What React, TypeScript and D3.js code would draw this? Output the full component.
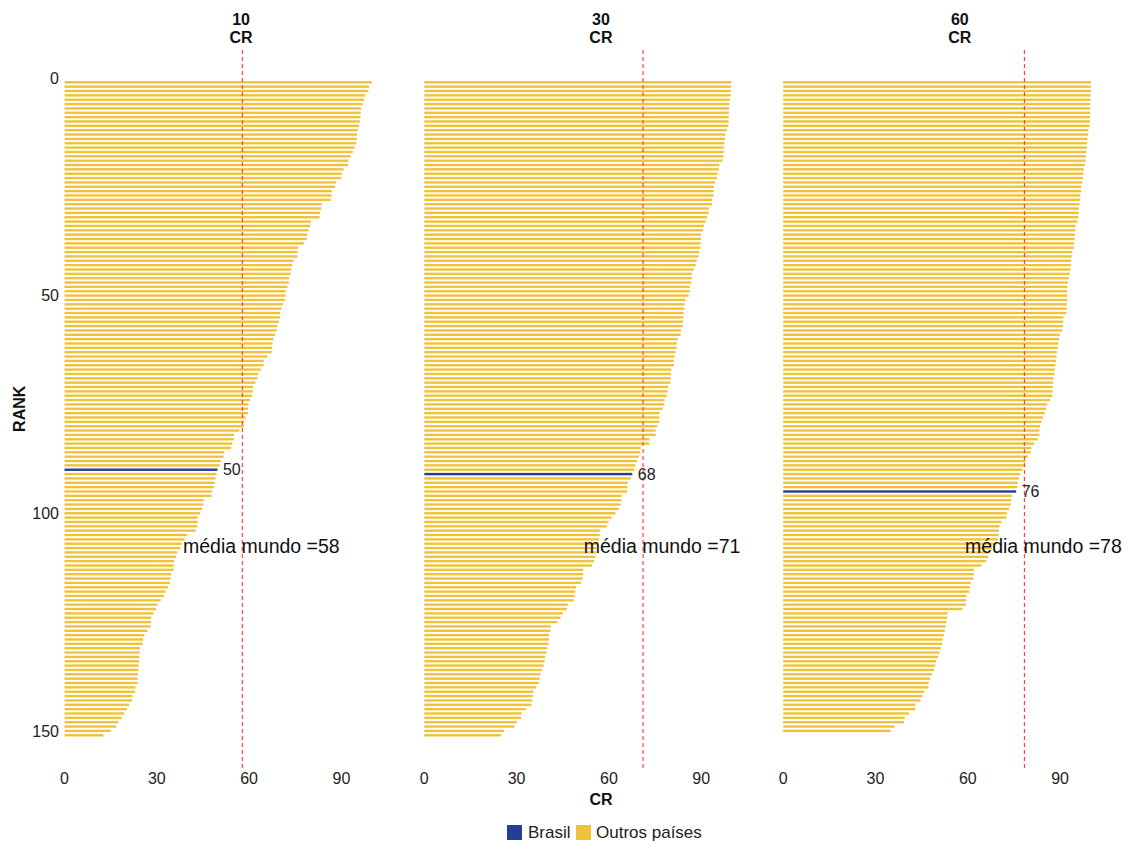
import React from "react";
import * as d3 from "d3";

const panelTitles = ["10", "30", "60"];
const xTicks = [0, 30, 60, 90];
const yTicks = [0, 50, 100, 150];
const legendLabels = ["Brasil", "Outros países"];

const cr10 = [
  99.9, 99.0, 98.8, 97.7, 97.3, 96.9, 96.4, 96.3, 96.2, 96.0,
  95.7, 95.3, 95.1, 95.0, 94.8, 94.3, 93.7, 93.0, 92.3, 92.1,
  90.7, 90.1, 89.9, 88.2, 88.0, 86.9, 86.8, 86.5, 83.6, 83.4,
  83.0, 82.9, 80.1, 79.8, 79.3, 78.9, 78.7, 77.8, 75.9, 75.8,
  75.7, 74.4, 74.0, 73.7, 73.4, 73.0, 72.9, 72.5, 71.9, 71.8,
  71.7,
  71.0, 70.5, 70.1, 70.0, 69.7, 69.1, 69.0, 68.5, 67.9, 67.6,
  67.5, 67.3, 65.9, 64.8, 64.7, 63.8, 62.9, 62.7, 62.1, 61.3,
  61.2, 60.9, 60.2, 59.8, 59.6, 59.6, 58.8, 58.4, 58.3, 56.8,
  55.1, 55.0, 54.5, 54.1, 51.9, 51.7, 50.8, 50.4, 49.7, 49.4,
  49.1, 48.8, 48.5, 47.9, 47.8, 45.2, 45.1, 44.7,
  44.1, 43.3, 43.3, 43.2, 42.6, 39.9, 39.0, 38.1, 37.6, 36.6,
  36.3, 35.6, 35.5, 35.4, 34.6, 34.5, 34.2, 33.6, 32.9, 32.3,
  31.2, 30.2, 29.7, 28.9, 28.2, 28.1, 28.0, 27.0, 26.0, 25.6,
  25.4, 24.5, 24.4, 24.4, 24.2, 24.1, 24.0, 23.9, 23.8, 23.8,
  23.1, 22.9, 22.1, 21.9, 21.0, 20.3, 19.4, 18.5, 17.4, 16.8,
  15.0, 12.6,
];

const cr30 = [
  99.8, 99.7, 99.6, 99.6, 99.3, 99.1, 99.1, 99.0, 98.9, 98.9,
  98.8, 98.4, 97.8, 97.7, 97.5, 97.3, 97.3, 97.2, 96.9, 95.9,
  95.7, 95.3, 95.1, 94.5, 94.1, 94.0, 94.0, 93.5, 93.5, 92.5,
  92.4, 91.9, 91.5, 90.9, 90.6, 89.9, 89.9, 89.8, 89.7, 89.3,
  89.1, 88.5, 88.2, 87.5, 86.9, 86.9, 86.8, 86.3, 86.3, 85.9,
  84.8, 84.6, 84.5, 84.3, 84.2, 84.1, 84.0, 83.4, 83.3, 82.4,
  82.1, 82.0, 81.7, 81.3, 81.1, 81.1, 80.3, 80.2, 80.1, 80.0,
  79.3, 79.1, 78.8, 78.1, 78.0, 77.5, 76.5, 76.4, 76.4, 75.7,
  75.2, 75.2, 73.2, 73.2, 70.4, 70.2, 69.7, 69.2, 68.6, 68.3,
  67.6, 67.2, 66.1, 66.0, 65.9, 64.2, 64.1, 63.8, 63.2, 62.1,
  60.9, 59.9, 59.3, 57.2, 57.0, 56.8, 56.3, 56.0, 55.9, 55.6,
  55.1, 54.5, 51.6, 51.6, 51.5, 50.9, 49.3, 49.1, 48.9, 48.6,
  46.6, 46.3, 45.0, 44.3, 43.3, 41.1, 41.0, 40.6, 40.5, 40.4,
  39.9, 39.7, 39.3, 39.1, 38.8, 38.2, 37.8, 37.5, 37.2, 36.4,
  35.4, 35.3, 35.0, 34.8, 33.0, 31.6, 31.5, 30.0, 29.3, 25.9,
  24.9,
];

const cr60 = [
  100, 100, 100, 99.9, 99.9, 99.8, 99.8, 99.8, 99.7, 99.7,
  99.6, 99.2, 99.1, 98.9, 98.8, 98.7, 98.5, 98.4, 98.3, 98.0,
  97.7, 97.5, 97.4, 97.2, 96.9, 96.8, 96.6, 96.5, 96.3, 96.1,
  96.0, 95.9, 95.6, 95.0, 94.9, 94.8, 94.7, 94.6, 94.5, 93.9,
  93.8, 93.6, 93.5, 93.3, 93.1, 92.8, 92.5, 92.3,
  92.3, 92.3, 92.3, 92.2, 92.1, 92.0, 91.1, 91.0, 91.0, 90.7,
  89.9, 89.7, 89.4, 89.2, 88.9, 88.8, 88.7, 88.5, 88.3, 88.1,
  87.9, 87.8, 87.6, 87.5, 87.4, 86.7, 85.8, 85.4, 85.0, 84.4,
  83.9, 83.5, 83.3, 83.3, 82.7, 81.5, 80.6, 80.4, 79.5, 78.9,
  78.7, 77.8, 77.0, 76.6, 76.2, 76.1, 75.7, 74.3, 74.1, 73.9,
  73.5, 72.7, 72.5,
  70.9, 70.3, 70.1, 70.0, 69.8, 68.9, 67.8, 67.3, 66.6, 66.0,
  64.4, 62.0, 61.9, 61.8, 60.9, 60.7, 60.5, 59.6, 59.5, 59.4,
  58.2, 53.4, 53.3, 53.0, 52.8, 52.5, 52.3, 51.8, 51.7, 51.2,
  50.8, 50.3, 49.7, 49.4, 49.0, 48.3, 47.8, 47.3, 47.2, 45.8,
  45.3, 44.6, 43.0, 42.9, 40.9, 39.5, 39.2, 36.2, 34.9,
];

const seriesValues = [cr10, cr30, cr60];
const brasilIndex = [89, 90, 94];
const worldMean = [57.8, 71.1, 78.4];

const YELLOW = "#EFC23A";
const BLUE = "#243F93";
const FONT = "'Liberation Sans', Arial, Helvetica, sans-serif";

export default function App() {
  const W = 1128;
  const H = 841;
  const panelX0 = [64.5, 424.3, 783.2];
  const pxPerUnit = 3.077;
  const yScale = d3.scaleLinear().domain([0, 150]).range([77.95, 730.9]);
  const barH = 2.4;

  return (
    <svg
      width={W}
      height={H}
      style={{ position: "absolute", left: 0, top: 0, background: "#fff" }}
      fontFamily={FONT}
    >
      {yTicks.map((t) => (
        <text key={t} x={59} y={yScale(t)} dy="0.35em" textAnchor="end" fontSize={16} fill="#222">
          {t}
        </text>
      ))}
      <text
        transform={`translate(25,${yScale(76)}) rotate(-90)`}
        textAnchor="middle"
        fontSize={16}
        fontWeight="bold"
        fill="#111"
      >
        RANK
      </text>

      {seriesValues.map((vals, p) => {
        const x = d3
          .scaleLinear()
          .domain([0, 100])
          .range([panelX0[p], panelX0[p] + 100 * pxPerUnit]);
        const meanX = x(worldMean[p]);
        const bi = brasilIndex[p];
        const bv = vals[bi];
        return (
          <g key={p}>
            <text x={x(57.4)} y={25} textAnchor="middle" fontSize={16} fontWeight="bold" fill="#111">
              {panelTitles[p]}
            </text>
            <text x={x(57.4)} y={43} textAnchor="middle" fontSize={16} fontWeight="bold" fill="#111">
              CR
            </text>
            {vals.map((v, i) =>
              i === bi ? null : (
                <rect
                  key={i}
                  x={x(0)}
                  y={yScale(i + 1) - barH / 2}
                  width={x(v) - x(0)}
                  height={barH}
                  fill={YELLOW}
                />
              )
            )}
            <rect
              x={x(0)}
              y={yScale(bi + 1) - barH / 2}
              width={x(bv) - x(0)}
              height={barH}
              fill={BLUE}
            />
            <line
              x1={meanX}
              x2={meanX}
              y1={50}
              y2={768}
              stroke="#F44"
              strokeWidth={1.2}
              strokeDasharray="4,3"
            />
            <text x={x(bv) + 5.5} y={yScale(bi + 1)} dy="0.35em" fontSize={16} fill="#222">
              {Math.round(bv)}
            </text>
            <text x={meanX + 19} y={553} textAnchor="middle" fontSize={19.5} fill="#111">
              {`média mundo =${Math.round(worldMean[p])}`}
            </text>
            {xTicks.map((t) => (
              <text key={t} x={x(t)} y={784} textAnchor="middle" fontSize={16} fill="#222">
                {t}
              </text>
            ))}
          </g>
        );
      })}

      <text x={601} y={805} textAnchor="middle" fontSize={16} fontWeight="bold" fill="#111">
        CR
      </text>

      <rect x={507} y={825} width={15} height={15} fill={BLUE} />
      <text x={528} y={838} fontSize={17} fill="#222">
        {legendLabels[0]}
      </text>
      <rect x={576} y={825} width={15} height={15} fill={YELLOW} />
      <text x={596} y={838} fontSize={17} fill="#222">
        {legendLabels[1]}
      </text>
    </svg>
  );
}
